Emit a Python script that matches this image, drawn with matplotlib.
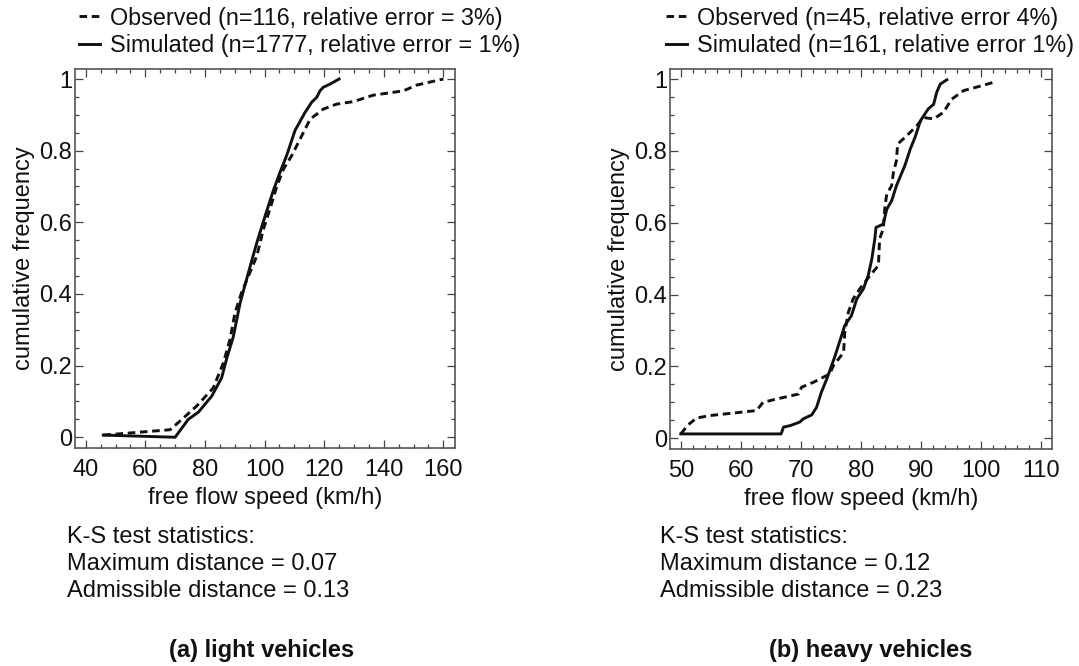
import numpy as np
import matplotlib.pyplot as plt
from matplotlib.ticker import MultipleLocator, FormatStrFormatter

plt.rcParams['font.family'] = ['Liberation Sans', 'DejaVu Sans']

# light vehicles
light_obs_speed = [45.9, 54.9, 68.3, 71.6, 77.2, 82.8, 86.2, 88.4, 90.1, 92.3, 94.6, 97.4, 99.6,
                   101.8, 104.1, 106.3, 109.1, 111.9, 115.3, 119.7, 124.2, 129.8, 136.5, 146.6,
                   151.0, 160.0]
light_obs_cdf = [0.006, 0.012, 0.021, 0.045, 0.087, 0.138, 0.208, 0.273, 0.348, 0.404, 0.45, 0.506,
                 0.58, 0.637, 0.70, 0.748, 0.786, 0.832, 0.888, 0.916, 0.93, 0.937, 0.955, 0.967,
                 0.983, 1.0]
light_sim_speed = [45.9, 70.0, 74.4, 77.8, 82.3, 85.6, 87.3, 89.5, 91.8, 94.6, 97.4, 100.2, 103.0,
                   105.2, 107.4, 110.2, 113.6, 115.8, 117.5, 118.6, 119.7, 122.0, 125.0]
light_sim_cdf = [0.006, 0.0, 0.05, 0.07, 0.115, 0.166, 0.22, 0.28, 0.375, 0.46, 0.543, 0.618, 0.69,
                 0.74, 0.786, 0.856, 0.907, 0.935, 0.949, 0.967, 0.977, 0.986, 1.0]

# heavy vehicles
heavy_obs_speed = [50.0, 51.2, 52.6, 54.8, 58.7, 62.6, 63.7, 65.9, 69.6, 70.1, 72.1, 74.8, 75.4,
                   77.1, 77.3, 77.9, 78.7, 79.8, 81.5, 82.9, 83.1, 83.7, 84.0, 84.3, 85.1, 85.4,
                   85.9, 86.1, 87.6, 89.3, 90.4, 92.1, 93.7, 95.1, 97.1, 99.8, 102.1]
heavy_obs_cdf = [0.012, 0.037, 0.056, 0.063, 0.07, 0.077, 0.1, 0.109, 0.123, 0.142, 0.156, 0.179,
                 0.202, 0.239, 0.295, 0.351, 0.388, 0.416, 0.453, 0.481, 0.555, 0.583, 0.648,
                 0.68, 0.703, 0.74, 0.773, 0.819, 0.842, 0.87, 0.893, 0.889, 0.907, 0.944, 0.968,
                 0.98, 0.991]
heavy_sim_speed = [50.0, 66.7, 67.1, 68.2, 69.8, 70.4, 71.8, 72.6, 73.4, 74.3, 75.1, 75.7, 76.5,
                   77.3, 78.4, 79.3, 80.4, 81.2, 81.8, 82.3, 82.5, 83.7, 84.3, 85.1, 85.9, 87.3,
                   88.2, 89.0, 89.9, 91.2, 92.1, 92.6, 93.2, 94.3]
heavy_sim_cdf = [0.012, 0.012, 0.031, 0.035, 0.045, 0.054, 0.065, 0.086, 0.128, 0.165, 0.202, 0.23,
                 0.272, 0.314, 0.341, 0.388, 0.416, 0.453, 0.499, 0.555, 0.587, 0.596, 0.638,
                 0.661, 0.703, 0.759, 0.805, 0.838, 0.884, 0.917, 0.93, 0.963, 0.986, 0.998]

legend_light = ['Observed (n=116, relative error = 3%)', 'Simulated (n=1777, relative error = 1%)']
legend_heavy = ['Observed (n=45, relative error 4%)', 'Simulated (n=161, relative error 1%)']
ks_light = ['K-S test statistics:', 'Maximum distance = 0.07', 'Admissible distance = 0.13']
ks_heavy = ['K-S test statistics:', 'Maximum distance = 0.12', 'Admissible distance = 0.23']
titles = ['(a) light vehicles', '(b) heavy vehicles']

W, H = 1079, 666
fig = plt.figure(figsize=(W / 100, H / 100), dpi=100)


def px_axes(x0, y0, x1, y1):
    return fig.add_axes([x0 / W, 1 - y1 / H, (x1 - x0) / W, (y1 - y0) / H])


def style(ax, xlim, major, minor):
    ax.set_xlim(*xlim)
    ax.set_ylim(-0.03, 1.028)
    ax.xaxis.set_major_locator(MultipleLocator(major))
    ax.xaxis.set_minor_locator(MultipleLocator(minor))
    ax.yaxis.set_major_locator(MultipleLocator(0.2))
    ax.yaxis.set_minor_locator(MultipleLocator(0.05))
    ax.yaxis.set_major_formatter(FormatStrFormatter('%g'))
    ax.tick_params(which='both', direction='in', top=True, right=True, color='#444444',
                   width=0.9, labelsize=17, labelcolor='#111111')
    ax.tick_params(which='major', length=5.5, pad=8)
    ax.tick_params(which='minor', length=3)
    ax.tick_params(axis='y', which='major', pad=2)
    for s in ax.spines.values():
        s.set_color('#555555')
        s.set_linewidth(1.2)
    ax.set_xlabel('free flow speed (km/h)', fontsize=17, color='#111111', labelpad=4)
    ax.set_ylabel('cumulative frequency', fontsize=17, color='#111111', labelpad=3)


dash = (0, (2.6, 1.6))

ax1 = px_axes(75, 69, 455, 448)
h1, = ax1.plot(light_obs_speed, light_obs_cdf, color='#111111', lw=2.1, linestyle=dash)
h2, = ax1.plot(light_sim_speed, light_sim_cdf, color='#111111', lw=2.1)
style(ax1, (36.4, 163.9), 20, 5)

ax2 = px_axes(670, 69, 1052, 449)
h3, = ax2.plot(heavy_obs_speed, heavy_obs_cdf, color='#111111', lw=2.1, linestyle=dash)
h4, = ax2.plot(heavy_sim_speed, heavy_sim_cdf, color='#111111', lw=2.1)
style(ax2, (48.2, 111.8), 10, 2)

for handles, labels, lx in [([h1, h2], legend_light, 67), ([h3, h4], legend_heavy, 654)]:
    fig.legend(handles, labels, loc='upper left', bbox_to_anchor=(lx / W, 1 + 5 / H),
               frameon=False, fontsize=16.8, handlelength=0.9, handletextpad=0.45,
               labelspacing=0.2, borderpad=0.0, labelcolor='#111111')

for lines, x0 in [(ks_light, 67), (ks_heavy, 660)]:
    for i, t in enumerate(lines):
        fig.text(x0 / W, 1 - (537 + 27 * i) / H, t, fontsize=17, color='#111111',
                 ha='left', va='center')

for t, xc in zip(titles, [262, 871]):
    fig.text(xc / W, 1 - 650 / H, t, fontsize=17, fontweight='bold', color='#111111',
             ha='center', va='center')

fig.savefig('out.png', dpi=100)
